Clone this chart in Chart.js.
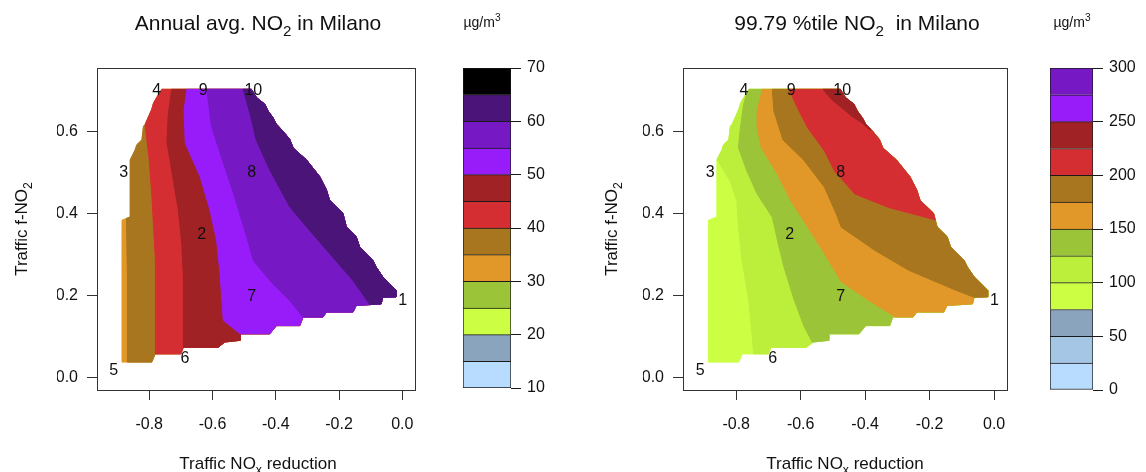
<!DOCTYPE html>
<html>
<head>
<meta charset="utf-8">
<script src="https://cdn.jsdelivr.net/npm/chart.js@4.4.1/dist/chart.umd.min.js"></script>
<style>
  html, body { margin: 0; padding: 0; background: #fff; }
  #wrap { position: relative; width: 1146px; height: 472px; overflow: hidden; }
  canvas { position: absolute; top: 0; }
</style>
</head>
<body>
<div id="wrap">
  <canvas id="annual" width="573" height="472" style="left:0"></canvas>
  <canvas id="annualKey" width="133" height="472" style="left:440px"></canvas>
  <canvas id="p99" width="573" height="472" style="left:573px"></canvas>
  <canvas id="p99Key" width="126" height="472" style="left:1020px"></canvas>
</div>
<script>
// ─── Data ─────────────────────────────────────────────────────────────
const xTickVals = [-0.8, -0.6, -0.4, -0.2, 0.0];
const yTickVals = [0.0, 0.2, 0.4, 0.6];

const annualLevels = [10, 15, 20, 25, 30, 35, 40, 45, 50, 55, 60, 65, 70];
const annualColors = ['#b8dcff', '#8aa4be', '#ccff44', '#9cc438', '#e29828', '#a8761e',
                      '#d42e32', '#a02224', '#981cfa', '#7618c4', '#4a1478', '#000000'];
const p99Levels = [0, 25, 50, 75, 100, 125, 150, 175, 200, 225, 250, 275, 300];
const p99Colors = ['#b8dcff', '#a6c6e6', '#8aa4be', '#ccff44', '#bcee3c', '#9cc438',
                   '#e29828', '#a8761e', '#d42e32', '#a02224', '#981cfa', '#7618c4'];

// scenario labels 1..10 (traffic NOx reduction, traffic f-NO2)
const scenarioIds = ['1', '2', '3', '4', '5', '6', '7', '8', '9', '10'];
const scenarioX = [0.001, -0.634, -0.881, -0.776, -0.912, -0.687, -0.476, -0.476, -0.629, -0.471];
const scenarioY = [0.188, 0.348, 0.500, 0.699, 0.017, 0.046, 0.197, 0.499, 0.699, 0.699];

// outline of the computed domain (clockwise from top-left corner)
const domainRing = [
  [-0.760, 0.703], [-0.477, 0.703], [-0.461, 0.683], [-0.435, 0.667], [-0.424, 0.650],
  [-0.409, 0.634], [-0.398, 0.618], [-0.377, 0.601], [-0.356, 0.581], [-0.345, 0.560],
  [-0.303, 0.531], [-0.261, 0.490], [-0.240, 0.458], [-0.230, 0.433], [-0.188, 0.401],
  [-0.177, 0.368], [-0.146, 0.344], [-0.135, 0.319], [-0.093, 0.286], [-0.083, 0.270],
  [-0.062, 0.246], [-0.020, 0.213], [-0.020, 0.197], [-0.062, 0.196], [-0.067, 0.180],
  [-0.146, 0.176], [-0.156, 0.160], [-0.240, 0.160], [-0.251, 0.148], [-0.314, 0.148],
  [-0.324, 0.127], [-0.398, 0.127], [-0.419, 0.107], [-0.513, 0.107], [-0.513, 0.091],
  [-0.561, 0.087], [-0.582, 0.074], [-0.692, 0.074], [-0.700, 0.058], [-0.781, 0.058],
  [-0.792, 0.038], [-0.886, 0.038], [-0.886, 0.384], [-0.860, 0.392], [-0.860, 0.531],
  [-0.844, 0.556], [-0.839, 0.568], [-0.823, 0.580], [-0.818, 0.613], [-0.813, 0.617],
  [-0.792, 0.654], [-0.786, 0.670], [-0.771, 0.690]
];

// annual mean: contour lines (lower level on the left side of each line)
const annualBase = 30;
const annB35 = [[-0.872, 0.388], [-0.870, 0.250], [-0.868, 0.038]];
const annB40 = [[-0.813, 0.617], [-0.800, 0.531], [-0.792, 0.450], [-0.781, 0.286], [-0.779, 0.150], [-0.781, 0.058]];
const annB45 = [[-0.729, 0.703], [-0.740, 0.640], [-0.744, 0.575], [-0.708, 0.409], [-0.697, 0.327], [-0.692, 0.246], [-0.692, 0.074]];
const annB50 = [[-0.681, 0.703], [-0.690, 0.650], [-0.686, 0.572], [-0.639, 0.490], [-0.608, 0.409], [-0.587, 0.335], [-0.576, 0.254], [-0.566, 0.140], [-0.513, 0.107]];
const annB55 = [[-0.618, 0.703], [-0.603, 0.613], [-0.576, 0.548], [-0.534, 0.450], [-0.492, 0.344], [-0.471, 0.286], [-0.419, 0.237], [-0.356, 0.188], [-0.314, 0.148]];
const annB60 = [[-0.503, 0.703], [-0.480, 0.640], [-0.462, 0.580], [-0.419, 0.507], [-0.356, 0.417], [-0.303, 0.368], [-0.230, 0.303], [-0.156, 0.237], [-0.104, 0.180]];
const annualBoundLevels = [35, 40, 45, 50, 55, 60];

// 99.79 percentile
const p99Base = 75;
const p99B100 = [[-0.858, 0.531], [-0.819, 0.480], [-0.798, 0.432], [-0.793, 0.367], [-0.782, 0.286], [-0.761, 0.189], [-0.751, 0.108], [-0.746, 0.058]];
const p99B125 = [[-0.766, 0.696], [-0.777, 0.666], [-0.787, 0.609], [-0.793, 0.561], [-0.767, 0.504], [-0.735, 0.448], [-0.688, 0.391], [-0.672, 0.335], [-0.652, 0.270], [-0.620, 0.189], [-0.589, 0.124], [-0.563, 0.085]];
const p99B150 = [[-0.719, 0.703], [-0.735, 0.650], [-0.735, 0.609], [-0.722, 0.561], [-0.672, 0.496], [-0.631, 0.432], [-0.578, 0.367], [-0.526, 0.302], [-0.474, 0.234], [-0.390, 0.189], [-0.306, 0.148]];
const p99B175 = [[-0.688, 0.703], [-0.683, 0.650], [-0.655, 0.580], [-0.590, 0.530], [-0.526, 0.464], [-0.490, 0.400], [-0.474, 0.367], [-0.369, 0.310], [-0.265, 0.262], [-0.118, 0.213], [-0.062, 0.196]];
const p99B200 = [[-0.636, 0.703], [-0.610, 0.658], [-0.578, 0.609], [-0.526, 0.553], [-0.495, 0.504], [-0.432, 0.448], [-0.327, 0.415], [-0.183, 0.385]];
const p99B225 = [[-0.531, 0.703], [-0.505, 0.679], [-0.474, 0.659], [-0.442, 0.638], [-0.411, 0.622], [-0.385, 0.603]];
const p99BoundLevels = [100, 125, 150, 175, 200, 225];

const X_MIN = -0.965, X_MAX = 0.04, Y_MIN = -0.03, Y_MAX = 0.755;
const FONT = "'Liberation Sans', Arial, Helvetica, sans-serif";
const INK = '#111';

Chart.defaults.font.family = FONT;
Chart.defaults.color = INK;

// ─── Polygon helpers ──────────────────────────────────────────────────
function projectOnRing(ring, p) {
  let best = null;
  for (let i = 0; i < ring.length; i++) {
    const a = ring[i], b = ring[(i + 1) % ring.length];
    const dx = b[0] - a[0], dy = b[1] - a[1];
    const l2 = dx * dx + dy * dy;
    let t = l2 ? ((p[0] - a[0]) * dx + (p[1] - a[1]) * dy) / l2 : 0;
    t = Math.max(0, Math.min(1, t));
    const q = [a[0] + t * dx, a[1] + t * dy];
    const d = (q[0] - p[0]) ** 2 + (q[1] - p[1]) ** 2;
    if (!best || d < best.d) best = { i, t, q, d };
  }
  return best;
}

// part of the domain lying to the right of a contour line
function regionRightOf(ring, line) {
  const n = ring.length;
  const s = projectOnRing(ring, line[0]);
  const e = projectOnRing(ring, line[line.length - 1]);
  const pts = [s.q];
  if (!(e.i === s.i && e.t >= s.t)) {
    let k = (s.i + 1) % n;
    while (true) {
      pts.push(ring[k]);
      if (k === e.i) break;
      k = (k + 1) % n;
    }
  }
  pts.push(e.q);
  for (let j = line.length - 1; j >= 0; j--) pts.push(line[j]);
  return pts;
}

function bandColor(levels, colors, level) {
  return colors[levels.indexOf(level)];
}

// ─── Text helpers ─────────────────────────────────────────────────────
function richText(ctx, parts, x, y, size, rotate) {
  const f = s => `${s}px ${FONT}`;
  let w = 0;
  const runs = parts.map(([t, k]) => {
    const s = k ? size * 0.72 : size;
    ctx.font = f(s);
    const rw = ctx.measureText(t).width;
    w += rw;
    return { t, k, s, rw };
  });
  ctx.save();
  ctx.translate(x, y);
  if (rotate) ctx.rotate(-Math.PI / 2);
  ctx.fillStyle = INK;
  ctx.textAlign = 'left';
  ctx.textBaseline = 'alphabetic';
  let cx = -w / 2;
  runs.forEach(r => {
    ctx.font = f(r.s);
    const dy = r.k === 'sub' ? size * 0.27 : r.k === 'sup' ? -size * 0.42 : 0;
    ctx.fillText(r.t, cx, dy);
    cx += r.rw;
  });
  ctx.restore();
}

const panelDecor = {
  id: 'panelDecor',
  afterDatasetsDraw(chart, args, opts) {
    const { ctx, chartArea: a, scales } = chart;
    ctx.save();
    if (opts.frame) {
      ctx.strokeStyle = '#333';
      ctx.lineWidth = 1;
      ctx.strokeRect(Math.round(a.left) + 0.5, Math.round(a.top) + 0.5,
                     Math.round(a.right - a.left), Math.round(a.bottom - a.top));
    }
    if (opts.labels) {
      ctx.fillStyle = INK;
      ctx.font = `16px ${FONT}`;
      ctx.textAlign = 'center';
      ctx.textBaseline = 'middle';
      scenarioIds.forEach((t, i) => {
        ctx.fillText(t, scales.x.getPixelForValue(scenarioX[i]), scales.y.getPixelForValue(scenarioY[i]));
      });
    }
    (opts.texts || []).forEach(tx => richText(ctx, tx.parts, tx.x, tx.y, tx.size, tx.rotate));
    ctx.restore();
  }
};

// ─── Charts ───────────────────────────────────────────────────────────
function renderContour(id, opt) {
  const polys = [domainRing.slice()].concat(opt.bounds.map(b => regionRightOf(domainRing, b)));
  const fills = [bandColor(opt.levels, opt.colors, opt.base)]
    .concat(opt.boundLevels.map(l => bandColor(opt.levels, opt.colors, l)));

  return new Chart(document.getElementById(id), {
    type: 'scatter',
    data: {
      datasets: polys.map((p, k) => ({
        data: p.map(([x, y]) => ({ x, y })),
        showLine: true,
        fill: 'shape',
        backgroundColor: fills[k],
        borderColor: fills[k],
        borderWidth: 1,
        pointRadius: 0,
        tension: 0,
        order: polys.length - k
      }))
    },
    options: {
      responsive: false,
      animation: false,
      events: [],
      layout: { padding: opt.padding },
      plugins: {
        legend: { display: false },
        tooltip: { enabled: false },
        panelDecor: { frame: true, labels: true, texts: opt.texts }
      },
      scales: {
        x: {
          type: 'linear', min: X_MIN, max: X_MAX,
          afterBuildTicks: s => { s.ticks = xTickVals.map(v => ({ value: v })); },
          afterFit: s => { s.height = 40; },
          ticks: { callback: v => v.toFixed(1), font: { size: 16 }, color: INK, padding: 15, maxRotation: 0, autoSkip: false },
          grid: { drawOnChartArea: false, drawTicks: true, tickLength: 10, color: '#333' },
          border: { display: false }
        },
        y: {
          type: 'linear', min: Y_MIN, max: Y_MAX,
          afterBuildTicks: s => { s.ticks = yTickVals.map(v => ({ value: v })); },
          afterFit: s => { s.width = 40; },
          ticks: { callback: v => v.toFixed(1), font: { size: 16 }, color: INK, padding: 9, autoSkip: false },
          grid: { drawOnChartArea: false, drawTicks: true, tickLength: 10, color: '#333' },
          border: { display: false }
        }
      }
    },
    plugins: [panelDecor]
  });
}

function renderKey(id, levels, colors, padding, unitX) {
  return new Chart(document.getElementById(id), {
    type: 'bar',
    data: {
      labels: [''],
      datasets: colors.map((c, k) => ({
        data: [[levels[k], levels[k + 1]]],
        backgroundColor: c,
        borderColor: '#1a1a1a',
        borderWidth: k === 0 ? 1 : { top: 1, left: 1, right: 1, bottom: 0 },
        borderSkipped: false,
        grouped: false,
        barPercentage: 1,
        categoryPercentage: 1
      }))
    },
    options: {
      responsive: false,
      animation: false,
      events: [],
      layout: { padding },
      plugins: {
        legend: { display: false },
        tooltip: { enabled: false },
        panelDecor: {
          texts: [{ parts: [['\u00b5g/m', ''], ['3', 'sup']], x: unitX, y: 27, size: 14 }]
        }
      },
      scales: {
        x: { display: false },
        y: {
          position: 'right',
          min: levels[0], max: levels[levels.length - 1],
          afterBuildTicks: s => { s.ticks = levels.filter((v, i) => i % 2 === 0).map(v => ({ value: v })); },
          afterFit: s => { s.width = 48; },
          ticks: { font: { size: 16 }, color: INK, padding: 6, autoSkip: false },
          grid: { drawOnChartArea: false, drawTicks: true, tickLength: 10, color: '#1a1a1a' },
          border: { display: false }
        }
      }
    },
    plugins: [panelDecor]
  });
}

renderContour('annual', {
  levels: annualLevels, colors: annualColors, base: annualBase,
  bounds: [annB35, annB40, annB45, annB50, annB55, annB60], boundLevels: annualBoundLevels,
  padding: { left: 57, right: 158, top: 68, bottom: 42 },
  texts: [
    { parts: [['Annual avg. NO', ''], ['2', 'sub'], [' in Milano', '']], x: 258, y: 30, size: 21 },
    { parts: [['Traffic NO', ''], ['x', 'sub'], [' reduction', '']], x: 258, y: 469, size: 17 },
    { parts: [['Traffic f-NO', ''], ['2', 'sub']], x: 27, y: 229, size: 17, rotate: true }
  ]
});

renderContour('p99', {
  levels: p99Levels, colors: p99Colors, base: p99Base,
  bounds: [p99B100, p99B125, p99B150, p99B175, p99B200, p99B225], boundLevels: p99BoundLevels,
  padding: { left: 70, right: 139, top: 68, bottom: 42 },
  texts: [
    { parts: [['99.79 %tile NO', ''], ['2', 'sub'], ['  in Milano', '']], x: 284, y: 30, size: 21 },
    { parts: [['Traffic NO', ''], ['x', 'sub'], [' reduction', '']], x: 272, y: 469, size: 17 },
    { parts: [['Traffic f-NO', ''], ['2', 'sub']], x: 44, y: 229, size: 17, rotate: true }
  ]
});

renderKey('annualKey', annualLevels, annualColors, { left: 23, right: 14, top: 68, bottom: 84 }, 42);
renderKey('p99Key', p99Levels, p99Colors, { left: 30, right: 5, top: 68, bottom: 82 }, 52);
</script>
</body>
</html>
